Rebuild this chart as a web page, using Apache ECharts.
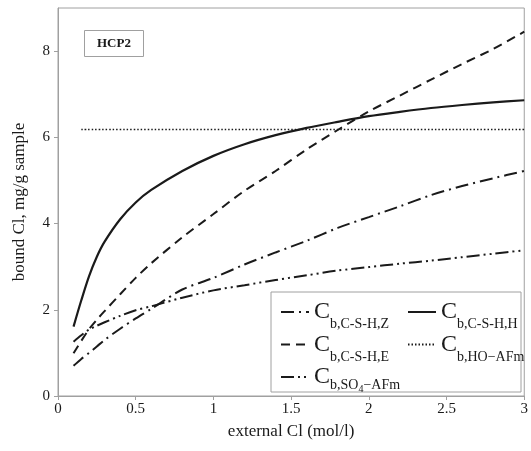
<!DOCTYPE html>
<html>
<head>
<meta charset="utf-8">
<script src="https://cdn.jsdelivr.net/npm/echarts@6/dist/echarts.min.js"></script>
<style>
  html, body { margin: 0; padding: 0; background: #fff; }
  #chart { width: 531px; height: 451px; }
</style>
</head>
<body>
<div id="chart"></div>
<script>
// external Cl (mol/l)
var xs = [0.1, 0.15, 0.2, 0.25, 0.3, 0.4, 0.5, 0.6, 0.8, 1.0, 1.2, 1.4, 1.6, 1.8, 2.0, 2.2, 2.4, 2.6, 2.8, 3.0];
// bound Cl, mg/g sample
var csh_H = [1.61, 2.22, 2.78, 3.23, 3.58, 4.10, 4.49, 4.78, 5.22, 5.57, 5.84, 6.05, 6.22, 6.36, 6.49, 6.59, 6.68, 6.75, 6.81, 6.86];
var csh_E = [0.99, 1.28, 1.55, 1.77, 1.97, 2.36, 2.74, 3.08, 3.68, 4.22, 4.76, 5.22, 5.72, 6.17, 6.60, 6.97, 7.34, 7.70, 8.05, 8.45];
var csh_Z = [0.70, 0.86, 1.00, 1.15, 1.30, 1.56, 1.80, 2.02, 2.47, 2.74, 3.05, 3.33, 3.60, 3.90, 4.15, 4.40, 4.66, 4.87, 5.05, 5.22];
var so4_AFm = [1.26, 1.41, 1.54, 1.63, 1.71, 1.86, 1.99, 2.08, 2.28, 2.45, 2.57, 2.69, 2.80, 2.91, 2.99, 3.07, 3.14, 3.22, 3.30, 3.38];
var ho_AFm_x = [0.15, 3.0];
var ho_AFm = [6.18, 6.18];
var xTicks = [0, 0.5, 1, 1.5, 2, 2.5, 3];
var yTicks = [0, 2, 4, 6, 8];

var names = {
	Z: 'C_Z',
	H: 'C_H',
	E: 'C_E',
	HO: 'C_HO',
	SO4: 'C_SO4'
};
var legendText = {
	C_Z: '{c|C}{s|b,C-S-H,Z}',
	C_H: '{c|C}{s|b,C-S-H,H}',
	C_E: '{c|C}{s|b,C-S-H,E}',
	C_HO: '{c|C}{s|b,HO\u2212AFm}',
	C_SO4: '{c|C}{s3|b,SO}{ss|4}{s3|\u2212AFm}'
};

function pairs(x, y) {
	var out = [];
	for (var i = 0; i < x.length; i++) {
		out.push([x[i], y[i]]);
	}
	return out;
}

var font = 'Liberation Serif';
var ink = '#1a1a1a';
var frame = '#a0a0a0';

function lineSeries(name, x, y, dash, width) {
	return {
		type: 'line',
		name: name,
		data: pairs(x, y),
		smooth: 0.3,
		symbol: 'none',
		lineStyle: { color: ink, width: width || 2, type: dash },
		itemStyle: { color: ink },
		z: 3
	};
}

// subscripts pushed down with top padding
var rich = {
	c: { fontSize: 24, fontFamily: font, color: ink, lineHeight: 26 },
	s: { fontSize: 14, fontFamily: font, color: ink, padding: [25, 0, 0, 0] },
	s3: { fontSize: 14, fontFamily: font, color: ink, padding: [16, 0, 0, 0] },
	ss: { fontSize: 10, fontFamily: font, color: ink, padding: [25, 0, 0, 0] }
};

var legendBase = {
	orient: 'vertical',
	itemWidth: 28,
	itemHeight: 12,
	itemGap: 1,
	selectedMode: false,
	itemStyle: { opacity: 0 },
	formatter: function (n) { return legendText[n]; },
	textStyle: { rich: rich }
};

var myChart = echarts.init(document.getElementById('chart'));
var option = {
	animation: false,
	backgroundColor: '#fff',
	grid: {
		left: 58, right: 4, top: 8, bottom: 55,
		show: true, borderColor: frame, borderWidth: 1
	},
	title: {
		text: 'HCP2',
		left: 84, top: 30,
		padding: [7, 13],
		borderColor: frame, borderWidth: 1,
		textStyle: { fontFamily: font, fontSize: 13, fontWeight: 'bold', color: ink }
	},
	graphic: [{
		type: 'rect',
		shape: { x: 271, y: 292, width: 250, height: 100 },
		style: { fill: '#fff', stroke: frame, lineWidth: 1 },
		z: 5
	}],
	legend: [
		Object.assign({}, legendBase, { left: 275, top: 295, data: [names.Z, names.E, names.SO4], z: 10 }),
		Object.assign({}, legendBase, { left: 402, top: 295, data: [names.H, names.HO], z: 10 })
	],
	xAxis: {
		type: 'value',
		min: xTicks[0], max: xTicks[xTicks.length - 1], interval: 0.5,
		name: 'external Cl (mol/l)',
		nameLocation: 'middle', nameGap: 27,
		nameTextStyle: { fontFamily: font, fontSize: 17, color: ink },
		axisLine: { lineStyle: { color: frame } },
		axisTick: { length: 4, lineStyle: { color: frame } },
		axisLabel: { fontFamily: font, fontSize: 15, color: ink, margin: 6 },
		splitLine: { show: false }
	},
	yAxis: {
		type: 'value',
		min: yTicks[0], max: 9, interval: 2,
		name: 'bound Cl, mg/g sample',
		nameLocation: 'middle', nameGap: 30,
		nameTextStyle: { fontFamily: font, fontSize: 17, color: ink },
		axisLine: { show: true, lineStyle: { color: frame } },
		axisTick: { show: true, length: 4, lineStyle: { color: frame } },
		axisLabel: { fontFamily: font, fontSize: 15, color: ink, margin: 8, showMaxLabel: false },
		splitLine: { show: false }
	},
	series: [
		lineSeries(names.Z, xs, csh_Z, [13, 5, 2, 5]),
		lineSeries(names.H, xs, csh_H, 'solid', 2.2),
		lineSeries(names.E, xs, csh_E, [9, 6]),
		lineSeries(names.HO, ho_AFm_x, ho_AFm, [1.5, 2], 1.6),
		lineSeries(names.SO4, xs, so4_AFm, [13, 4, 2, 4, 2, 4])
	]
};
myChart.setOption(option);
</script>
</body>
</html>
